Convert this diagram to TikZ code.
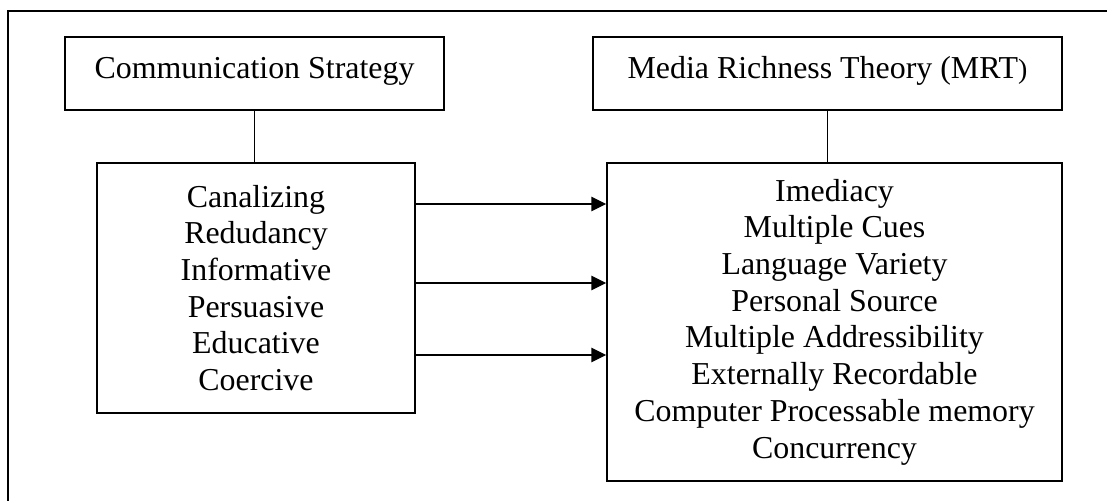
\documentclass[tikz,border=0pt]{standalone}
\usepackage{fontspec}
\setmainfont{Liberation Serif}
\usetikzlibrary{arrows.meta, calc}

\begin{document}
\begin{tikzpicture}[x=0.3762pt, y=-0.3762pt, line width=0.55pt,
    box/.style={draw, font=\fontsize{12}{13.8}\selectfont, align=center, inner sep=0pt},
    head/.style={box, minimum height=27.5pt, text height=8.5pt, text depth=4.4pt},
    link/.style={-{Triangle[length=5.6pt, width=5.4pt]}}]
    \clip (0,0) rectangle (1107,500);
    \draw (8,11) rectangle (1130,530);
    % headings
    \node[head, minimum width=142.6pt] (strategy) at (254.5,73.5) {Communication Strategy};
    \node[head, minimum width=176.4pt] (mrt) at (827.5,73.5) {Media Richness Theory (MRT{\fontsize{10.5}{12}\selectfont)}};
    % lists
    \node[box, minimum width=119.6pt, minimum height=94.05pt] (types) at (256,288)
        {Canalizing\\ Redudancy\\ Informative\\ Persuasive\\ Educative\\ Coercive};
    \node[box, minimum width=171.2pt, minimum height=119.6pt] (media) at (834.5,322)
        {Imediacy\\ Multiple Cues\\ Language Variety\\ Personal Source\\ Multiple Addressibility\\
         Externally Recordable\\ Computer Processable memory\\ Concurrency};
    \draw (strategy.south) -- (strategy.south |- types.north);
    \draw (mrt.south) -- (mrt.south |- media.north);
    \foreach \y in {204,283,355}
        \draw[link] (types.east |- 0,\y) -- (media.west |- 0,\y);
\end{tikzpicture}
\end{document}
